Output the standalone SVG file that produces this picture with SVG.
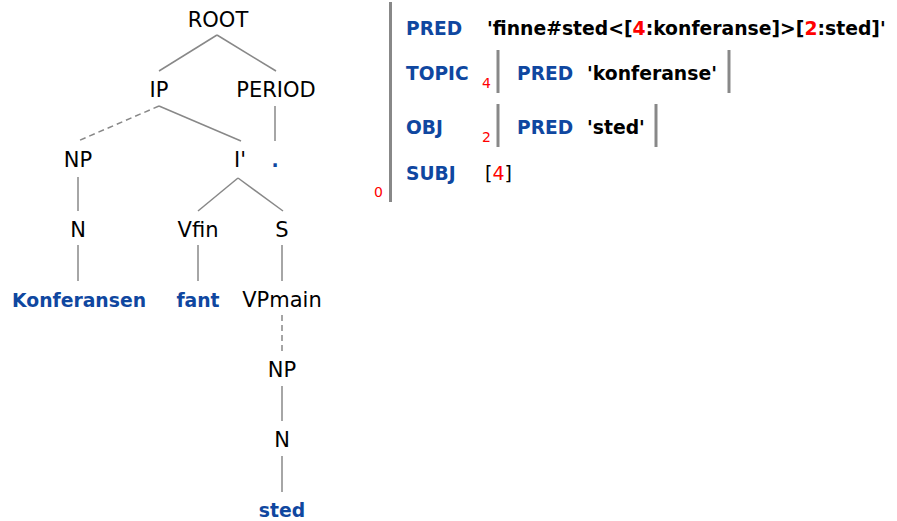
<svg xmlns="http://www.w3.org/2000/svg" width="897" height="521" viewBox="0 0 897 521">
  <style>
    .cat { font-family: "DejaVu Sans", Verdana, sans-serif; font-size: 21px; fill: #000; text-anchor: middle; }
    .word { font-family: "DejaVu Sans", Verdana, sans-serif; font-size: 18.8px; font-weight: bold; fill: #0f47a0; text-anchor: middle; }
    .attr { font-family: "DejaVu Sans", Verdana, sans-serif; font-size: 18.6px; font-weight: bold; fill: #0f47a0; }
    .val { font-family: "DejaVu Sans", Verdana, sans-serif; font-size: 18.8px; font-weight: bold; fill: #000; }
    .ref { font-family: "DejaVu Sans", Verdana, sans-serif; font-size: 19px; fill: #000; }
    .red { fill: #f00; }
    .idx { font-family: "DejaVu Sans", Verdana, sans-serif; font-size: 14px; fill: #f00; }
    .edge { stroke: #888; stroke-width: 1.5; fill: none; }
    .dash { stroke-dasharray: 6 4; }
    .bar { stroke: #888; stroke-width: 3; fill: none; }
  </style>

  <!-- c-structure edges -->
  <g id="edges">
    <line class="edge" x1="217" y1="35" x2="159" y2="71"/>
    <line class="edge" x1="217" y1="35" x2="276" y2="71"/>
    <line class="edge dash" x1="159" y1="106" x2="78" y2="141"/>
    <line class="edge" x1="159" y1="106" x2="241" y2="141"/>
    <line class="edge" x1="275" y1="106" x2="275" y2="141"/>
    <line class="edge" x1="78" y1="177" x2="78" y2="211"/>
    <line class="edge" x1="238" y1="178" x2="198" y2="211"/>
    <line class="edge" x1="238" y1="178" x2="283" y2="211"/>
    <line class="edge" x1="78" y1="245" x2="78" y2="281"/>
    <line class="edge" x1="198" y1="245" x2="198" y2="281"/>
    <line class="edge" x1="282" y1="245" x2="282" y2="281"/>
    <line class="edge dash" x1="282" y1="315" x2="282" y2="352" stroke-dasharray="4 3"/>
    <line class="edge" x1="282" y1="386" x2="282" y2="421"/>
    <line class="edge" x1="282" y1="456" x2="282" y2="492"/>
  </g>

  <!-- c-structure nodes -->
  <g id="root"><text class="cat" x="218" y="27">ROOT</text></g>
  <g id="ip"><text class="cat" x="159" y="97">IP</text></g>
  <g id="period"><text class="cat" x="276" y="97">PERIOD</text></g>
  <g id="np1"><text class="cat" x="78" y="167">NP</text></g>
  <g id="ibar"><text class="cat" x="240" y="167">I'</text></g>
  <g id="dot"><text class="word" x="275" y="167">.</text></g>
  <g id="n1"><text class="cat" x="78" y="237">N</text></g>
  <g id="vfin"><text class="cat" x="198" y="237">Vfin</text></g>
  <g id="s"><text class="cat" x="282" y="237">S</text></g>
  <g id="konferansen"><text class="word" x="79" y="307">Konferansen</text></g>
  <g id="fant"><text class="word" x="198" y="307">fant</text></g>
  <g id="vpmain"><text class="cat" x="282" y="307">VPmain</text></g>
  <g id="np2"><text class="cat" x="282" y="377">NP</text></g>
  <g id="n2"><text class="cat" x="282" y="447">N</text></g>
  <g id="sted"><text class="word" x="282" y="517">sted</text></g>

  <!-- f-structure -->
  <g id="fstructure">
    <line class="bar" x1="390.5" y1="2" x2="390.5" y2="202"/>
    <text class="idx" x="374" y="197">0</text>

    <text class="attr" x="406" y="35">PRED</text>
    <text class="val" x="487" y="35">'finne#sted&lt;[<tspan class="red">4</tspan>:konferanse]&gt;[<tspan class="red">2</tspan>:sted]'</text>

    <text class="attr" x="406" y="80">TOPIC</text>
    <text class="idx" x="482" y="88">4</text>
    <line class="bar" x1="498" y1="50" x2="498" y2="93"/>
    <text class="attr" x="517" y="80">PRED</text>
    <text class="val" x="587" y="80">'konferanse'</text>
    <line class="bar" x1="729" y1="50" x2="729" y2="93"/>

    <text class="attr" x="406" y="134">OBJ</text>
    <text class="idx" x="482" y="142">2</text>
    <line class="bar" x1="498" y1="104" x2="498" y2="147"/>
    <text class="attr" x="517" y="134">PRED</text>
    <text class="val" x="587" y="134">'sted'</text>
    <line class="bar" x1="656" y1="104" x2="656" y2="147"/>

    <text class="attr" x="406" y="180">SUBJ</text>
    <text class="ref" x="485" y="180">[<tspan class="red">4</tspan>]</text>
  </g>
</svg>
